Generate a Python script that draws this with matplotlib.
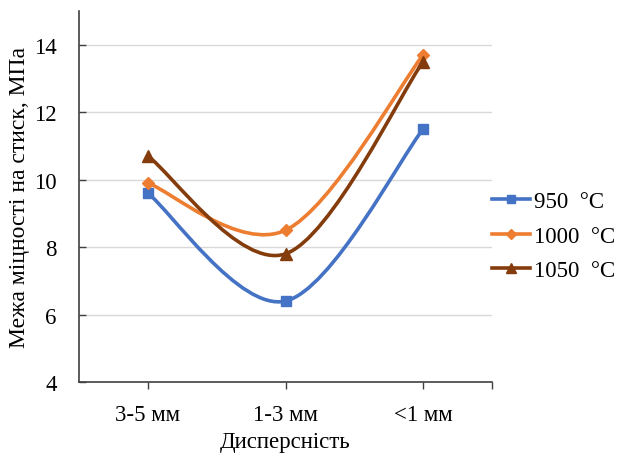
import numpy as np
import matplotlib
matplotlib.use("Agg")
import matplotlib.pyplot as plt
from matplotlib.path import Path
from matplotlib.patches import PathPatch
from matplotlib.lines import Line2D

categories = ["3-5 мм", "1-3 мм", "<1 мм"]
series_names = ["950  °C", "1000  °C", "1050  °C"]
v950 = [9.6, 6.4, 11.5]
v1000 = [9.9, 8.5, 13.7]
v1050 = [10.7, 7.8, 13.5]
yticks = [4, 6, 8, 10, 12, 14]

colors = ["#4472C4", "#ED7D31", "#843C0C"]
markers = ["s", "D", "^"]
msizes = [7, 6, 8]

plt.rcParams["font.family"] = ["Liberation Serif", "DejaVu Serif"]
FS = 16.5

fig = plt.figure(figsize=(6.17, 4.56), dpi=100)
ax = fig.add_axes([79 / 617, 1 - 383 / 456, 413 / 617, 371 / 456])
ax.set_xlim(-0.5, 2.5)
ax.set_ylim(4, 15)


def smooth_path(x, y):
    # Excel-like smoothing: cubic Bezier with Catmull-Rom control points in screen space
    pts = ax.transData.transform(np.column_stack([x, y]))
    n = len(pts)
    verts = [pts[0]]
    codes = [Path.MOVETO]
    for i in range(n - 1):
        p0 = pts[i - 1] if i > 0 else pts[i]
        p1 = pts[i]
        p2 = pts[i + 1]
        p3 = pts[i + 2] if i + 2 < n else pts[i + 1]
        c1 = p1 + (p2 - p0) / 6
        c2 = p2 - (p3 - p1) / 6
        verts += [c1, c2, p2]
        codes += [Path.CURVE4] * 3
    verts = ax.transData.inverted().transform(np.array(verts))
    return Path(verts, codes)


xs = np.arange(len(categories))
for vals, c, m, ms in zip([v950, v1000, v1050], colors, markers, msizes):
    ax.add_patch(PathPatch(smooth_path(xs, vals), fill=False, edgecolor=c,
                           lw=2.6, zorder=3, capstyle="round"))
    ax.plot(xs, vals, ls="none", marker=m, ms=ms, color=c, zorder=4)

ax.set_yticks(yticks)
ax.set_yticklabels([str(t) for t in yticks], fontsize=FS)
ax.set_xticks(list(xs) + [2.5])
ax.set_xticklabels(categories + [""], fontsize=FS)
ax.tick_params(axis="x", length=5, width=1, color="#404040", pad=11)
ax.tick_params(axis="y", length=5, width=1, color="#404040", direction="in", pad=16)
for t in yticks[1:]:
    ax.axhline(t, color="#D9D9D9", lw=1, zorder=1)

for s in ["top", "right"]:
    ax.spines[s].set_visible(False)
ax.spines["left"].set_color("#404040")
ax.spines["bottom"].set_color("#404040")
ax.spines["left"].set_linewidth(1.2)
ax.spines["bottom"].set_linewidth(1.2)

ax.set_ylabel("Межа міцності на стиск, МПа", fontsize=FS + 0.5, labelpad=3)
ax.set_xlabel("Дисперсність", fontsize=FS, labelpad=4)

handles = [Line2D([], [], color=c, lw=2.6, marker=m, ms=ms - 1)
           for c, m, ms in zip(colors, markers, msizes)]
fig.legend(handles, series_names, loc="center left",
           bbox_to_anchor=(492 / 617, 1 - 237 / 456), frameon=False,
           fontsize=FS, handlelength=1.65, handletextpad=0.2,
           labelspacing=0.58, borderpad=0, borderaxespad=0)

fig.savefig("out.png", dpi=100)
